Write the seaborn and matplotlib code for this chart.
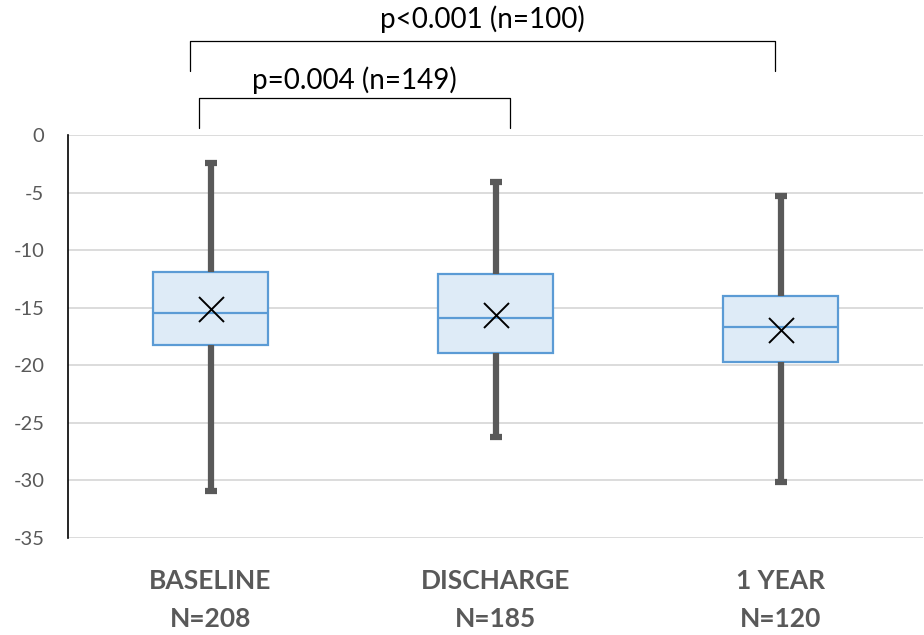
import matplotlib
matplotlib.use("Agg")
import seaborn as sns
from matplotlib import pyplot as plt

# values
groups = ["BASELINE\nN=208", "DISCHARGE\nN=185", "1 YEAR\nN=120"]
whisker_low = [-30.9, -26.2, -30.1]
q1 = [-18.2, -18.9, -19.7]
median = [-15.5, -15.9, -16.7]
q3 = [-11.9, -12.1, -14.0]
whisker_high = [-2.4, -4.1, -5.3]
mean = [-15.1, -15.6, -16.9]

yticks = [0, -5, -10, -15, -20, -25, -30, -35]

def main():
    sns.set_theme(style="white")
    plt.rcParams["font.family"] = ["Lato", "DejaVu Sans"]
    plt.rcParams["axes.unicode_minus"] = False

    fig = plt.figure(figsize=(9.24, 6.35), dpi=100)
    ax = fig.add_axes([0.0736, 0.1528, 0.9254, 0.6346])

    stats = []
    for i, name in enumerate(groups):
        stats.append({"label": name, "whislo": whisker_low[i], "q1": q1[i],
                      "med": median[i], "q3": q3[i], "whishi": whisker_high[i],
                      "mean": mean[i], "fliers": []})

    grey = "#595959"
    ax.bxp(stats, positions=[0, 1, 2], widths=0.405, capwidths=0.042,
           patch_artist=True, showmeans=True, showfliers=False,
           boxprops=dict(facecolor="#DEEBF7", edgecolor="#5B9BD5", linewidth=1.6),
           medianprops=dict(color="#5B9BD5", linewidth=1.6),
           whiskerprops=dict(color=grey, linewidth=4.5, solid_capstyle="butt"),
           capprops=dict(color=grey, linewidth=4.5, solid_capstyle="butt"),
           meanprops=dict(marker="x", markeredgecolor="black", markersize=18,
                          markeredgewidth=1.4))

    ax.set_xlim(-0.5, 2.5)
    ax.set_ylim(-35, 0)
    ax.set_yticks(yticks)
    ax.yaxis.grid(True, color="#D9D9D9", linewidth=1.3)
    ax.set_axisbelow(True)
    sns.despine(ax=ax, top=True, right=True, bottom=True)
    ax.spines["left"].set_color("black")
    ax.spines["left"].set_linewidth(1.2)
    ax.tick_params(axis="y", labelsize=14.5, colors=grey, length=0, pad=17)
    ax.tick_params(axis="x", length=0, pad=22)
    ax.set_xticks([0, 1, 2])
    ax.set_xticklabels(groups, fontsize=19, fontweight="bold", color=grey,
                       linespacing=1.7)

    # significance brackets
    def bracket(x0, x1, ytop, ybot, text, ytext):
        ax.plot([x0, x0, x1, x1], [ybot, ytop, ytop, ybot], color="black",
                linewidth=0.9, clip_on=False)
        ax.text((x0 + x1) / 2, ytext, text, ha="center", va="center",
                fontsize=20, color="black", clip_on=False)

    bracket(-0.073, 1.98, 8.17, 5.6, "p<0.001 (n=100)", 10.1)
    bracket(-0.04, 1.05, 3.2, 0.6, "p=0.004 (n=149)", 4.8)

    fig.savefig("out.png", dpi=100)

if __name__ == "__main__":
    main()
